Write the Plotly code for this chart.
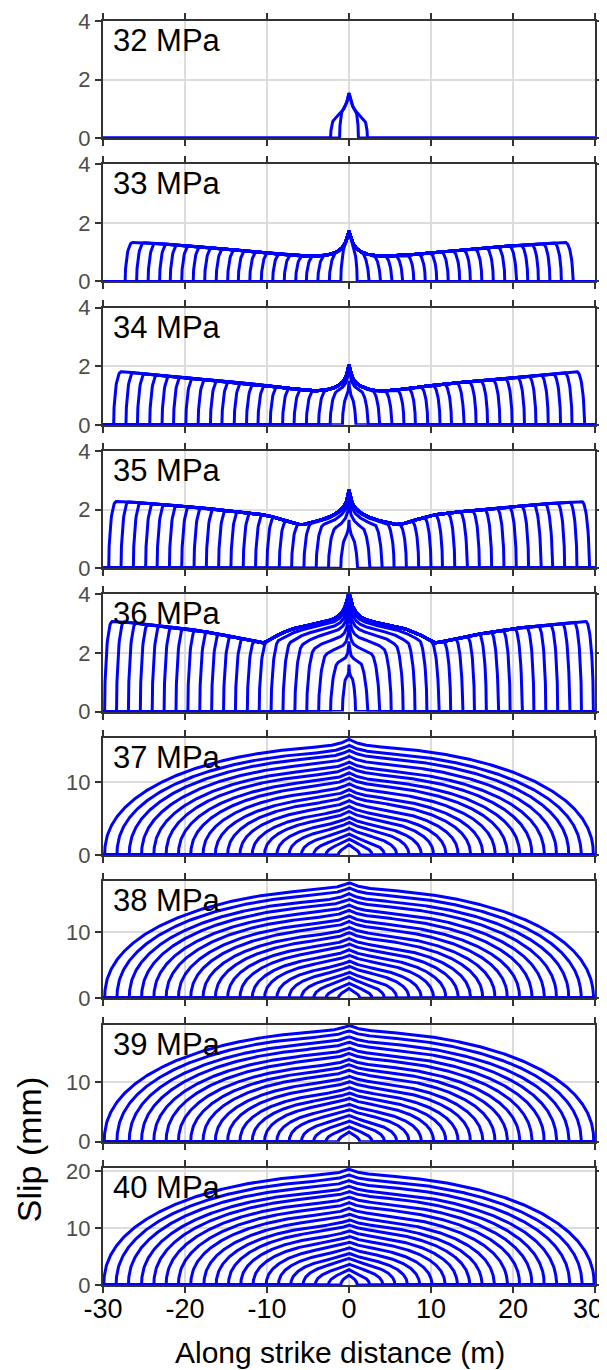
import numpy as np
import plotly.graph_objects as go
from plotly.subplots import make_subplots

# ---------------- values ----------------
panel_labels = ["32 MPa", "33 MPa", "34 MPa", "35 MPa", "36 MPa",
                "37 MPa", "38 MPa", "39 MPa", "40 MPa"]

x_tick_vals = [-30, -20, -10, 0, 10, 20, 30]
x_tick_text = ["-30", "-20", "-10", "0", "10", "20", "30"]

# y-axis ranges / ticks of the nine panels (mm)
y_max = [4, 4, 4, 4, 4, 16.1, 17.8, 19.6, 20.6]
y_ticks = [[0, 2, 4]] * 5 + [[0, 10]] * 3 + [[0, 10, 20]]

# --- pulse-like panels: final slip envelope (|x| in m, slip in mm),
#     rupture-front half-lengths of the snapshots (m), and centre peaks of
#     the crack-like inner snapshots (mm) inside the central zone (m)
env_x_32 = [0.0, 0.25, 0.5, 0.8, 1.2, 1.6, 2.0, 2.4]
env_y_32 = [1.54, 1.25, 1.06, 0.93, 0.81, 0.70, 0.57, 0.45]
fronts_32 = [1.15, 2.25]
zone_32 = 2.25
inner_peaks_32 = []

env_x_33 = [0.0, 0.3, 0.7, 1.2, 2.0, 3.0, 4.0, 6.0, 10.0, 15.0, 20.0, 25.0, 27.5]
env_y_33 = [1.72, 1.42, 1.20, 1.06, 0.95, 0.89, 0.87, 0.88, 0.98, 1.10, 1.22, 1.32, 1.34]
fronts_33 = [1.0, 2.4, 3.8, 5.2, 6.5, 7.9, 9.3, 10.7, 12.1, 13.5,
             14.8, 16.2, 17.6, 19.0, 20.4, 21.8, 23.1, 24.5, 25.9, 27.3]
zone_33 = 4.0
inner_peaks_33 = []

env_x_34 = [0.0, 0.3, 0.7, 1.2, 2.0, 3.0, 4.0, 5.0, 6.0, 8.0, 10.0, 15.0, 20.0, 25.0, 27.5, 29.0]
env_y_34 = [2.04, 1.70, 1.48, 1.36, 1.25, 1.18, 1.16, 1.17, 1.20, 1.27, 1.34, 1.48, 1.61, 1.74, 1.81, 1.82]
fronts_34 = [0.8, 2.3, 3.7, 5.2, 6.7, 8.1, 9.6, 11.1, 12.5, 14.0,
             15.5, 16.9, 18.4, 19.9, 21.4, 22.8, 24.3, 25.8, 27.2, 28.7]
zone_34 = 3.8
inner_peaks_34 = [1.50, 1.95, 2.03]

env_x_35 = [0.0, 0.3, 0.7, 1.2, 2.0, 3.0, 4.0, 5.0, 5.8, 6.6, 8.0, 10.0, 15.0, 20.0, 25.0, 27.5, 29.5]
env_y_35 = [2.67, 2.28, 2.08, 1.94, 1.80, 1.68, 1.60, 1.53, 1.49, 1.52, 1.64, 1.80, 1.97, 2.11, 2.22, 2.27, 2.28]
fronts_35 = [1.0, 2.5, 4.0, 5.5, 7.0, 8.5, 10.0, 11.4, 12.9, 14.4,
             15.9, 17.4, 18.9, 20.4, 21.9, 23.4, 24.8, 26.3, 27.8, 29.3]
zone_35 = 5.8
inner_peaks_35 = [1.65, 2.30, 2.55, 2.65]

env_x_36 = [0.0, 0.3, 0.7, 1.2, 2.0, 3.0, 4.0, 5.0, 6.5, 7.5, 8.5, 9.5,
            10.5, 11.3, 12.5, 15.0, 20.0, 25.0, 28.0, 29.8]
env_y_36 = [4.10, 3.72, 3.45, 3.28, 3.15, 3.06, 3.00, 2.94, 2.85, 2.76, 2.64, 2.49,
            2.35, 2.38, 2.46, 2.60, 2.83, 2.98, 3.07, 3.08]
fronts_36 = [0.8, 2.25, 3.7, 5.15, 6.6, 8.05, 9.5, 10.95, 12.4, 13.85, 15.3,
             16.75, 18.2, 19.65, 21.1, 22.55, 24.0, 25.45, 26.9, 28.35, 29.8]
zone_36 = 10.5
inner_peaks_36 = [1.60, 2.40, 2.95, 3.35, 3.65, 3.85, 4.00]

# --- crack-like panels: front half-lengths (m) and centre slip (mm)
fronts_37 = [1.3, 2.8, 4.3, 5.8, 7.3, 8.8, 10.3, 11.8, 13.3, 14.8,
             16.3, 17.8, 19.3, 20.8, 22.3, 23.8, 25.3, 26.8, 28.3, 29.8]
peaks_37 = [1.4, 2.2, 2.9, 3.7, 4.5, 5.2, 6.0, 6.7, 7.5, 8.3,
            9.0, 9.8, 10.6, 11.3, 12.1, 12.8, 13.6, 14.4, 15.1, 15.9]
fronts_38 = [1.3, 2.8, 4.3, 5.8, 7.3, 8.8, 10.3, 11.8, 13.3, 14.8,
             16.3, 17.8, 19.3, 20.8, 22.3, 23.8, 25.3, 26.8, 28.3, 29.8]
peaks_38 = [1.5, 2.3, 3.2, 4.0, 4.9, 5.7, 6.6, 7.4, 8.3, 9.1,
            10.0, 10.8, 11.7, 12.5, 13.4, 14.2, 15.1, 15.9, 16.8, 17.6]
fronts_39 = [1.3, 2.8, 4.3, 5.8, 7.3, 8.8, 10.3, 11.8, 13.3, 14.8,
             16.3, 17.8, 19.3, 20.8, 22.3, 23.8, 25.3, 26.8, 28.3, 29.85]
peaks_39 = [1.6, 2.5, 3.5, 4.4, 5.4, 6.3, 7.3, 8.2, 9.1, 10.1,
            11.0, 12.0, 12.9, 13.8, 14.8, 15.7, 16.7, 17.6, 18.6, 19.5]
fronts_40 = [1.0, 2.5, 4.1, 5.6, 7.1, 8.6, 10.1, 11.7, 13.2, 14.7,
             16.2, 17.7, 19.3, 20.8, 22.3, 23.8, 25.3, 26.9, 28.4, 29.9]
peaks_40 = [1.7, 2.7, 3.7, 4.7, 5.6, 6.6, 7.6, 8.6, 9.6, 10.6,
            11.5, 12.5, 13.5, 14.5, 15.5, 16.5, 17.4, 18.4, 19.4, 20.4]

# ---------------- drawing helpers ----------------
X = np.linspace(-30.0, 30.0, 1201)
AX = np.abs(X)
BLUE = "#0000ff"


def pchip(xk, yk, xq):
    """Shape-preserving cubic through the read envelope samples."""
    xk = np.asarray(xk, float)
    yk = np.asarray(yk, float)
    h = np.diff(xk)
    d = np.diff(yk) / h
    m = np.zeros_like(yk)
    for i in range(1, len(xk) - 1):
        if d[i - 1] * d[i] > 0:
            w1 = 2 * h[i] + h[i - 1]
            w2 = h[i] + 2 * h[i - 1]
            m[i] = (w1 + w2) / (w1 / d[i - 1] + w2 / d[i])
    m[0] = d[0]
    m[-1] = d[-1]
    xq = np.clip(xq, xk[0], xk[-1])
    idx = np.clip(np.searchsorted(xk, xq, side="right") - 1, 0, len(h) - 1)
    t = (xq - xk[idx]) / h[idx]
    h00 = 2 * t ** 3 - 3 * t ** 2 + 1
    h10 = t ** 3 - 2 * t ** 2 + t
    h01 = -2 * t ** 3 + 3 * t ** 2
    h11 = t ** 3 - t ** 2
    return (h00 * yk[idx] + h10 * h[idx] * m[idx]
            + h01 * yk[idx + 1] + h11 * h[idx] * m[idx + 1])


def front_rise(L, w):
    d = np.clip((L - AX) / w, 0.0, 1.0)
    return np.sqrt(1.0 - (1.0 - d) ** 2)


def pulse_curves(env_x, env_y, fronts, zone, inner_peaks, w):
    E = pchip(env_x, env_y, AX)
    E0 = env_y[0]
    out = []
    for i, L in enumerate(fronts):
        wi = min(w, 0.6 * L)
        if i < len(inner_peaks):
            Es = pchip(env_x, env_y, AX * zone / L)
            y = front_rise(L, wi) * inner_peaks[i] / E0 * Es
        else:
            y = front_rise(L, wi) * E
        out.append(y)
    return out


def crack_curves(fronts, peaks, cusp=1.0, cusp_w=1.4, expo=0.45):
    out = []
    for L, P in zip(fronts, peaks):
        u = np.clip(AX / L, 0.0, 1.0)
        B = min(cusp, 0.7 * P)
        y = (1.0 - u ** 2) ** expo * ((P - B) + B * np.exp(-AX / cusp_w))
        out.append(y)
    return out


def join(curves):
    xs, ys = [], []
    for y in curves:
        xs.append(X)
        ys.append(y)
        xs.append([np.nan])
        ys.append([np.nan])
    return np.concatenate(xs), np.concatenate(ys)


panels = [
    pulse_curves(env_x_32, env_y_32, fronts_32, zone_32, inner_peaks_32, 0.35),
    pulse_curves(env_x_33, env_y_33, fronts_33, zone_33, inner_peaks_33, 0.9),
    pulse_curves(env_x_34, env_y_34, fronts_34, zone_34, inner_peaks_34, 0.9),
    pulse_curves(env_x_35, env_y_35, fronts_35, zone_35, inner_peaks_35, 0.9),
    pulse_curves(env_x_36, env_y_36, fronts_36, zone_36, inner_peaks_36, 0.9),
    crack_curves(fronts_37, peaks_37),
    crack_curves(fronts_38, peaks_38),
    crack_curves(fronts_39, peaks_39),
    crack_curves(fronts_40, peaks_40),
]

fig = make_subplots(rows=9, cols=1, vertical_spacing=0.0208)

AXCOL = "#333333"
GRID = "#dcdcdc"
FONT = "Liberation Sans, Arial, sans-serif"

# the right-most tick label is drawn as an annotation, pulled inside the page
axis_tick_text = x_tick_text[:-1] + [""]

for i, curves in enumerate(panels):
    r = i + 1
    xs, ys = join(curves)
    fig.add_trace(go.Scatter(x=xs, y=ys, mode="lines",
                             line=dict(color=BLUE, width=3),
                             connectgaps=False, showlegend=False,
                             hoverinfo="skip"), row=r, col=1)
    fig.update_xaxes(range=[-30, 30], tickvals=x_tick_vals, ticktext=axis_tick_text,
                     showticklabels=(r == 9), ticks="outside", ticklen=6,
                     tickwidth=2, tickcolor=AXCOL, showline=True, linewidth=2,
                     linecolor=AXCOL, mirror="ticks", showgrid=True,
                     gridcolor=GRID, gridwidth=2, zeroline=False,
                     automargin=False, ticklabeloverflow="allow",
                     ticklabelstandoff=-7,
                     tickfont=dict(family=FONT, size=27, color="#000000"),
                     row=r, col=1)
    fig.update_yaxes(range=[0, y_max[i]], tickvals=y_ticks[i],
                     ticks="outside", ticklen=6, tickwidth=2, tickcolor=AXCOL,
                     showline=True, linewidth=2, linecolor=AXCOL, mirror="ticks",
                     showgrid=True, gridcolor=GRID, gridwidth=2, zeroline=False,
                     automargin=False, ticklabeloverflow="allow",
                     tickfont=dict(family=FONT, size=22, color="#4d4d4d"),
                     row=r, col=1)
    yref = "y domain" if r == 1 else f"y{r} domain"
    xref = "x domain" if r == 1 else f"x{r} domain"
    fig.add_annotation(text=panel_labels[i], xref=xref, yref=yref,
                       x=0.016, y=1.0, xanchor="left", yanchor="top",
                       showarrow=False,
                       font=dict(family=FONT, size=31, color="#000000"))

fig.add_annotation(text=x_tick_text[-1], xref="x9", yref="paper",
                   x=x_tick_vals[-1], y=-0.0188, xanchor="right", yanchor="middle",
                   xshift=10, showarrow=False,
                   font=dict(family=FONT, size=27, color="#000000"))

fig.add_annotation(text="Slip (mm)", xref="paper", yref="paper",
                   x=-0.15, y=0.1068, xanchor="center", yanchor="middle",
                   textangle=-90, showarrow=False,
                   font=dict(family=FONT, size=34, color="#000000"))
fig.add_annotation(text="Along strike distance (m)", xref="paper", yref="paper",
                   x=0.4814, y=-0.0535, xanchor="center", yanchor="middle",
                   showarrow=False,
                   font=dict(family=FONT, size=30, color="#000000"))

# the page adds an 8 px body margin, so the figure is 8 px smaller and the
# plot margins are reduced accordingly
fig.update_layout(width=599, height=1362,
                  margin=dict(l=95, r=12, t=13, b=85, autoexpand=False),
                  paper_bgcolor="white", plot_bgcolor="white",
                  showlegend=False)

fig.write_html("out.html")
